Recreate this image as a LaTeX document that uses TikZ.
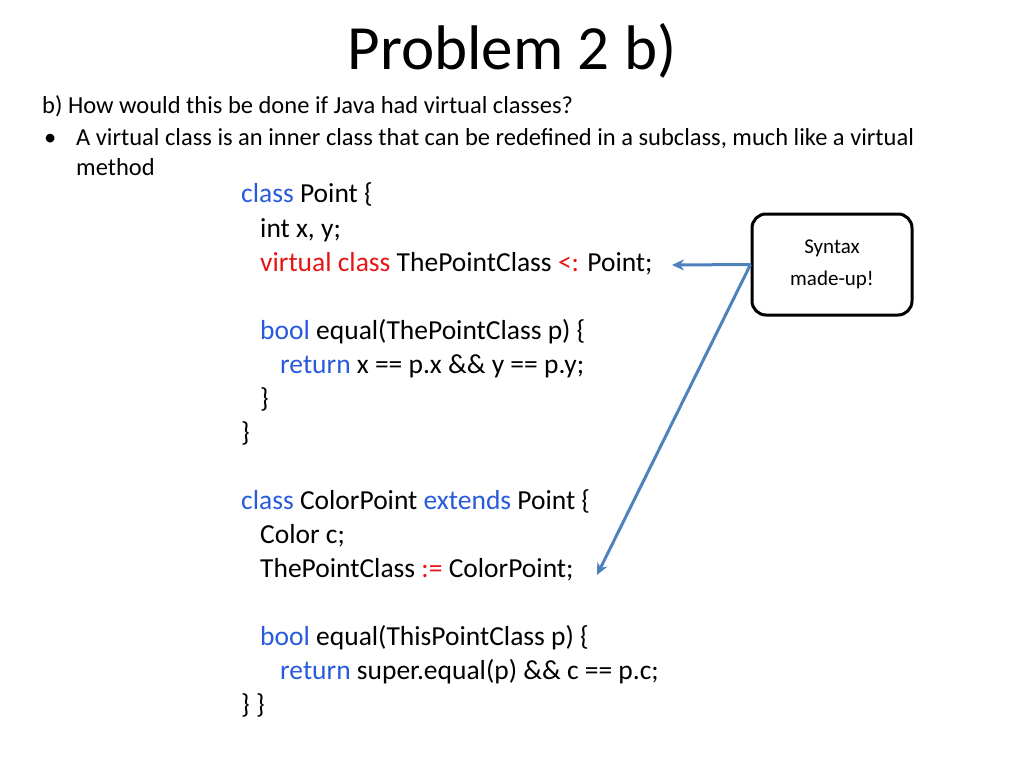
\documentclass[tikz,border=0pt]{standalone}
\usepackage{fontspec}
\setmainfont{Carlito}
\usetikzlibrary{arrows.meta}
\definecolor{kw}{RGB}{40,90,220}
\definecolor{rd}{RGB}{230,20,20}
\definecolor{arr}{RGB}{79,129,189}
\begin{document}
\begin{tikzpicture}[x=1pt,y=-1pt,
  code/.style={anchor=base west,inner sep=0,font=\fontsize{27.5}{30}\selectfont},
  body/.style={anchor=base west,inner sep=0,font=\fontsize{24.5}{28}\selectfont},
  arrow/.style={draw=arr,line width=3pt,-{Stealth[length=12pt,width=11pt]}}]
\useasboundingbox (0,0) rectangle (1024,768);
\node[anchor=base,inner sep=0,font=\fontsize{63}{70}\selectfont] (title) at (512,70) {Problem 2 b)};
\node[body] (q) at (42,113) {b) How would this be done if Java had virtual classes?};
\node[body] (b1) at (44,145) {•};
\node[body] (b2) at (76,145) {A virtual class is an inner class that can be redefined in a subclass, much like a virtual};
\node[body] (b3) at (76,175) {method};
\node[code] (l1) at (241,202) {\textcolor{kw}{class} Point \{};
\node[code] (l2) at (260,237) {int x, y;};
\node[code] (l3) at (260,271) {\textcolor{rd}{virtual class} ThePointClass \textcolor{rd}{<:} Point;};
\node[code] (l4) at (260,339) {\textcolor{kw}{bool} equal(ThePointClass p) \{};
\node[code] (l5) at (280,373) {\textcolor{kw}{return} x == p.x \&\& y == p.y;};
\node[code] (l6) at (260,407) {\}};
\node[code] (l7) at (241,441) {\}};
\node[code] (l8) at (241,509) {\textcolor{kw}{class} ColorPoint \textcolor{kw}{extends} Point \{};
\node[code] (l9) at (260,543) {Color c;};
\node[code] (l10) at (260,577) {ThePointClass \textcolor{rd}{:=} ColorPoint;};
\node[code] (l11) at (260,645) {\textcolor{kw}{bool} equal(ThisPointClass p) \{};
\node[code] (l12) at (280,679) {\textcolor{kw}{return} super.equal(p) \&\& c == p.c;};
\node[code] (l13) at (241,713) {\} \}};
\node[draw,line width=3pt,rounded corners=14pt,minimum width=160pt,minimum height=101pt,align=center,font=\fontsize{21}{32}\selectfont] (box) at (832,264.5) {Syntax\\made-up!};
\coordinate (t1) at (672,265);
\coordinate (t2) at (597,575);
\draw[arrow] (box.west) -- (t1);
\draw[arrow] (box.west) -- (t2);
\end{tikzpicture}
\end{document}
